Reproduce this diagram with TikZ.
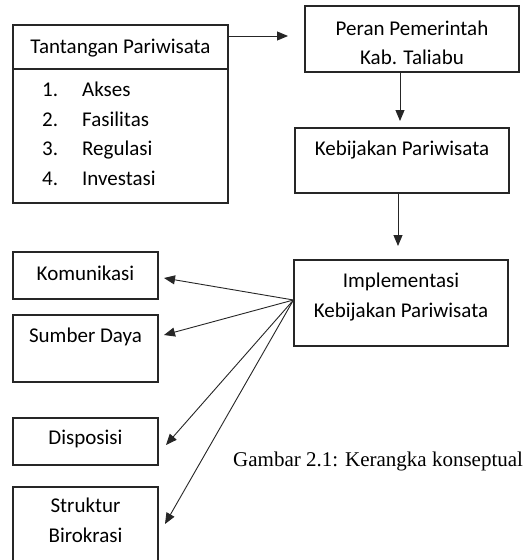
\documentclass[tikz,border=0pt]{standalone}
\usepackage{fontspec}
\setmainfont{Carlito}
\newfontfamily\capfont{Liberation Serif}
\usetikzlibrary{arrows.meta}
\begin{document}
\begin{tikzpicture}[x=1pt,y=-1pt,
  box/.style={draw=black!85,line width=1.1pt,inner sep=0pt},
  lbl/.style={font=\fontsize{21}{30}\selectfont,inner sep=0pt,anchor=base},
  arr/.style={draw=black!85,line width=0.9pt,-{Triangle[length=11pt,width=9pt]}}]
\clip (0,0) rectangle (524,560);
\fill[white] (0,0) rectangle (524,560);
% Tantangan
\node[box,minimum width=215,minimum height=44] (tt) at (120.5,47) {};
\node[lbl] (ttl) at (120.5,53) {Tantangan Pariwisata};
\node[box,minimum width=215,minimum height=134] (tl) at (120.5,136) {};
\node[lbl,anchor=base west] (n1) at (42,96) {1.};
\node[lbl,anchor=base west] (i1) at (82,96) {Akses};
\node[lbl,anchor=base west] (n2) at (42,126) {2.};
\node[lbl,anchor=base west] (i2) at (82,126) {Fasilitas};
\node[lbl,anchor=base west] (n3) at (42,155) {3.};
\node[lbl,anchor=base west] (i3) at (82,155) {Regulasi};
\node[lbl,anchor=base west] (n4) at (42,185) {4.};
\node[lbl,anchor=base west] (i4) at (82,185) {Investasi};
% Peran
\node[box,minimum width=214,minimum height=66] (peran) at (412,39) {};
\node[lbl] (p1) at (412,35) {Peran Pemerintah};
\node[lbl] (p2) at (412,64) {Kab. Taliabu};
% Kebijakan
\node[box,minimum width=214,minimum height=65] (keb) at (402,160.5) {};
\node[lbl] (k1) at (402,155) {Kebijakan Pariwisata};
% Implementasi
\node[box,minimum width=214,minimum height=86] (impl) at (401,303) {};
\node[lbl] (m1) at (401,287) {Implementasi};
\node[lbl] (m2) at (401,317) {Kebijakan Pariwisata};
% left boxes
\node[box,minimum width=145,minimum height=47] (kom) at (85.5,275.5) {};
\node[lbl] (kl) at (85.5,280) {Komunikasi};
\node[box,minimum width=145,minimum height=67] (sd) at (85.5,348.5) {};
\node[lbl] (sl) at (85.5,342) {Sumber Daya};
\node[box,minimum width=145,minimum height=47] (dis) at (85.5,441.5) {};
\node[lbl] (dl) at (85.5,444) {Disposisi};
\node[box,minimum width=145,minimum height=90] (sb) at (85.5,532) {};
\node[lbl] (s1) at (85.5,512) {Struktur};
\node[lbl] (s2) at (85.5,542) {Birokrasi};
% caption
\node[font=\capfont\fontsize{21}{24}\selectfont,inner sep=0pt,anchor=base west] (cap) at (233,466) {Gambar 2.1: Kerangka konseptual};
% connectors
\coordinate (a1) at (288,36);
\draw[arr] (tt.east |- a1) -- (a1);
\coordinate (a2) at (400,121);
\draw[arr] (a2 |- peran.south) -- (a2);
\coordinate (a3) at (398,246);
\draw[arr] (a3 |- keb.south) -- (a3);
\coordinate (hub) at (impl.west |- 0,300);
\coordinate (t1) at (164,278);
\coordinate (t2) at (164,335);
\coordinate (t3) at (166,445);
\coordinate (t4) at (165,524);
\draw[arr] (hub) -- (t1);
\draw[arr] (hub) -- (t2);
\draw[arr] (hub) -- (t3);
\draw[arr] (hub) -- (t4);
\end{tikzpicture}
\end{document}
